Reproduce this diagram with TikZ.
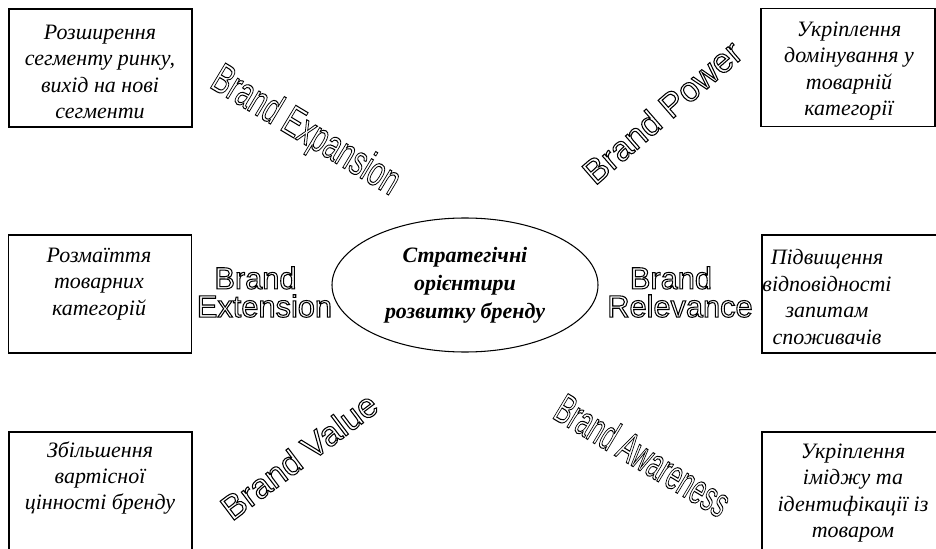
\documentclass[tikz,border=0pt]{standalone}
\usepackage{fontspec}
\usepackage{graphicx}
\setmainfont{Liberation Serif}
\newfontfamily\artfont{Liberation Sans}
\usetikzlibrary{shapes.geometric}
\newcommand{\hollow}[1]{\special{pdf:literal direct 1 Tr 0.6 w}#1\special{pdf:literal direct 0 Tr}}
\begin{document}
\begin{tikzpicture}[
  goalbox/.style={draw, line width=0.6pt, minimum width=3.66cm, minimum height=2.36cm, inner sep=0pt},
  goaltext/.style={align=center, inner sep=0pt, font=\fontsize{12.5}{15}\selectfont\itshape},
  wordart/.style={inner sep=0pt, font=\fontsize{19.5}{22}\selectfont\artfont},
  tallart/.style={inner sep=0pt, font=\fontsize{24}{26}\selectfont\artfont},
  flatart/.style={inner sep=0pt, align=center, font=\fontsize{17.5}{16}\selectfont\artfont},
]
\clip (0, 0) rectangle (18.72, 10.96);
\node [goalbox] (expbox) at (2.01, 9.60) {};
\node [goalbox, minimum width=3.48cm] (powbox) at (16.96, 9.61) {};
\node [goalbox] (extbox) at (2.00, 5.08) {};
\node [goalbox] (relbox) at (17.07, 5.08) {};
\node [goalbox] (valbox) at (2.01, 1.14) {};
\node [goalbox] (awrbox) at (17.07, 1.14) {};
\node [goaltext] (exptext) at (2.00, 9.52) {Розширення\\сегменту ринку,\\вихід на нові\\сегменти};
\node [goaltext] (powtext) at (16.98, 9.54) {Укріплення\\домінування у\\товарній\\категорії};
\node [goaltext] (exttext) at (1.98, 5.28) {Розмаїття\\товарних\\категорій};
\node [goaltext] (reltext) at (16.54, 5.02) {Підвищення\\відповідності\\запитам\\споживачів};
\node [goaltext] (valtext) at (2.00, 1.40) {Збільшення\\вартісної\\цінності бренду};
\node [goaltext] (awrtext) at (17.06, 1.10) {Укріплення\\іміджу та\\ідентифікації із\\товаром};
\node [ellipse, draw, line width=0.6pt, minimum width=5.32cm, minimum height=2.68cm, inner sep=0pt, align=center,
  font=\fontsize{12.5}{16}\selectfont\bfseries\itshape] (core) at (9.30, 5.26) {Стратегічні\\орієнтири\\розвитку бренду};
\node [flatart] (extart) at (5.29, 5.12) {\hollow{Brand}\hspace*{0.36cm}\\\hollow{Extension}};
\node [flatart] (relart) at (13.60, 5.12) {\hollow{Brand}\hspace*{0.36cm}\\\hollow{Relevance}};
\node [tallart, rotate=-31] (expart) at (6.10, 8.32) {\scalebox{0.66}[1]{\hollow{Brand Expansion}}};
\node [wordart, rotate=41] (powart) at (13.24, 8.72) {\hollow{Brand Power}};
\node [wordart, rotate=37] (valart) at (5.98, 1.84) {\hollow{Brand Value}};
\node [tallart, rotate=-31] (awrart) at (12.86, 1.86) {\scalebox{0.59}[1]{\hollow{Brand Awareness}}};
\end{tikzpicture}
\end{document}
